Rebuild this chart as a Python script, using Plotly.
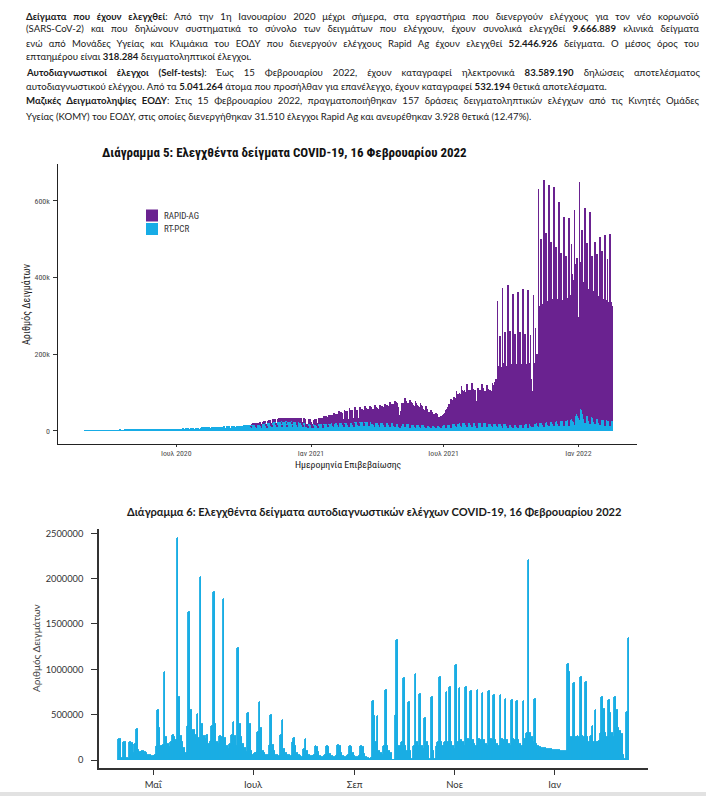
import json
import plotly.graph_objects as go
import pandas as pd

W, H = 706, 798

# ---------------- Chart 5: daily tested samples (thousands) ----------------
PCR_START = "2020-02-26"
pcr_k = [
    0.1, 0.2, 0.3, 0.2, 0.1, 0.3, 0.4,
    0.4, 0.5, 0.6, 0.4, 0.3, 0.7, 0.8,
    0.9, 1.0, 1.1, 0.8, 0.6, 1.2, 1.3,
    1.3, 1.4, 1.5, 1.1, 0.8, 1.4, 1.5,
    1.6, 1.7, 1.8, 1.3, 0.9, 1.7, 1.9,
    1.9, 2.0, 2.1, 1.5, 1.1, 2.0, 2.2,
    2.3, 2.4, 2.5, 1.7, 1.2, 2.3, 2.5,
    2.6, 2.5, 2.4, 1.6, 1.0, 1.9, 2.6,
    2.8, 2.9, 3.0, 2.1, 1.5, 2.9, 3.1,
    3.1, 3.2, 3.0, 2.2, 1.6, 3.2, 3.4,
    3.5, 3.6, 3.7, 2.6, 1.8, 3.5, 3.7,
    3.6, 3.8, 3.9, 2.7, 1.9, 3.6, 3.8,
    3.7, 3.9, 4.0, 2.8, 2.0, 3.7, 3.9,
    3.8, 4.0, 4.1, 2.9, 2.1, 3.9, 4.2,
    4.2, 4.3, 4.4, 3.1, 2.3, 4.1, 4.4,
    4.4, 4.6, 4.7, 3.3, 2.4, 4.4, 4.6,
    4.6, 4.8, 4.9, 3.5, 2.6, 4.7, 4.9,
    4.9, 5.1, 5.2, 3.7, 2.8, 5.0, 5.3,
    5.4, 5.6, 5.8, 4.1, 3.0, 5.7, 6.0,
    6.2, 6.4, 6.6, 4.7, 3.4, 6.3, 6.7,
    6.8, 7.1, 7.3, 5.2, 3.8, 7.0, 7.4,
    7.5, 7.8, 8.0, 5.7, 4.1, 7.7, 8.1,
    8.3, 8.6, 8.9, 6.3, 4.5, 8.5, 9.0,
    9.2, 9.6, 9.9, 7.0, 5.0, 9.4, 9.8,
    9.6, 9.9, 10.2, 7.2, 5.2, 8.8, 10.1,
    10.3, 10.7, 11.0, 7.8, 5.6, 10.4, 10.9,
    11.0, 11.3, 11.5, 8.1, 5.8, 10.8, 11.4,
    11.6, 11.9, 12.2, 8.6, 6.2, 11.5, 12.0,
    12.3, 12.6, 12.9, 9.0, 6.5, 12.2, 12.7,
    12.8, 13.2, 13.5, 9.5, 6.8, 12.9, 13.4,
    13.5, 13.9, 14.2, 10.0, 7.2, 13.6, 14.1,
    14.2, 14.6, 15.0, 10.5, 7.6, 14.4, 15.0,
    15.2, 15.7, 16.1, 11.3, 8.1, 15.6, 16.3,
    16.5, 17.0, 17.4, 12.2, 8.8, 16.9, 17.6,
    17.9, 18.4, 18.9, 13.2, 9.5, 18.2, 19.0,
    19.3, 19.9, 20.4, 14.3, 10.3, 19.8, 20.6,
    21.0, 21.6, 22.1, 15.5, 11.2, 21.4, 22.3,
    22.6, 23.2, 23.7, 16.6, 12.0, 23.0, 23.9,
    24.0, 24.5, 25.0, 17.5, 12.6, 24.2, 25.1,
    24.6, 25.1, 25.4, 17.8, 12.8, 24.6, 25.2,
    24.3, 24.7, 24.9, 17.4, 12.5, 23.9, 24.4,
    23.1, 23.4, 23.6, 16.5, 11.9, 22.7, 23.2,
    21.9, 22.3, 22.5, 15.8, 11.3, 21.6, 22.1,
    20.5, 16.2, 10.5, 12.8, 9.1, 18.7, 19.6,
    19.1, 15.0, 8.9, 12.1, 8.7, 17.8, 18.4,
    14.3, 17.9, 18.3, 12.8, 9.2, 17.6, 18.2,
    18.0, 18.4, 18.7, 13.1, 9.4, 18.0, 18.6,
    18.5, 18.9, 19.2, 13.4, 9.7, 18.6, 19.2,
    19.1, 19.5, 19.9, 13.9, 10.0, 19.2, 19.9,
    19.8, 20.3, 20.7, 14.5, 10.4, 20.0, 20.8,
    20.6, 21.1, 21.5, 15.1, 10.8, 20.8, 21.6,
    21.4, 21.9, 22.4, 15.7, 11.3, 21.7, 22.5,
    22.1, 22.6, 23.0, 16.1, 11.6, 22.3, 23.1,
    22.7, 23.2, 23.6, 16.5, 11.9, 22.9, 23.6,
    23.2, 23.6, 24.0, 16.8, 12.1, 23.2, 23.8,
    23.4, 23.8, 24.1, 16.9, 12.2, 23.0, 23.5,
    23.0, 18.5, 22.9, 16.0, 11.5, 22.1, 22.6,
    22.0, 22.4, 22.1, 15.5, 11.1, 21.3, 21.7,
    21.1, 21.4, 21.2, 14.8, 10.7, 20.4, 20.8,
    20.3, 20.6, 20.4, 14.3, 10.3, 19.6, 20.0,
    19.5, 19.8, 19.6, 13.7, 9.9, 18.9, 19.2,
    18.7, 18.3, 14.2, 9.1, 7.0, 12.8, 17.9,
    18.0, 18.2, 18.0, 12.6, 9.1, 17.3, 17.6,
    17.2, 17.4, 17.1, 12.0, 8.6, 16.5, 16.8,
    16.4, 16.6, 16.3, 11.4, 8.2, 15.7, 16.0,
    15.6, 15.8, 15.5, 10.9, 7.8, 14.9, 15.2,
    14.8, 15.0, 14.7, 10.3, 7.4, 14.1, 14.4,
    14.1, 14.2, 14.0, 9.8, 7.1, 13.5, 13.7,
    13.5, 13.6, 13.4, 9.4, 6.8, 12.4, 13.3,
    13.4, 13.7, 13.9, 9.7, 7.0, 13.8, 14.3,
    14.6, 15.0, 15.4, 10.8, 7.8, 15.3, 15.9,
    16.3, 16.8, 17.2, 12.0, 8.7, 17.0, 17.6,
    18.0, 18.5, 18.9, 13.2, 9.5, 18.6, 19.2,
    19.5, 19.9, 20.2, 14.1, 10.2, 19.7, 20.2,
    20.4, 20.7, 21.0, 14.7, 10.6, 20.3, 20.7,
    20.8, 21.1, 21.3, 14.9, 10.7, 20.4, 20.8,
    20.9, 21.1, 16.2, 12.5, 9.0, 19.8, 20.5,
    20.4, 20.6, 20.7, 14.5, 10.4, 19.9, 20.2,
    19.9, 20.1, 20.2, 14.1, 10.2, 19.3, 19.6,
    19.2, 19.4, 19.4, 13.6, 9.8, 18.6, 18.8,
    18.5, 18.6, 18.6, 13.0, 9.4, 17.8, 18.0,
    17.7, 17.8, 17.8, 12.5, 9.0, 17.1, 17.3,
    17.0, 17.1, 17.1, 12.0, 8.6, 16.4, 16.6,
    16.5, 16.6, 16.6, 11.6, 8.4, 16.0, 16.2,
    16.2, 16.4, 16.5, 11.6, 8.3, 16.0, 16.3,
    16.4, 16.6, 16.8, 11.8, 8.5, 16.4, 16.8,
    16.9, 17.2, 17.5, 12.3, 8.8, 17.2, 17.7,
    17.8, 13.2, 10.4, 12.6, 9.1, 18.3, 18.9,
    19.2, 19.6, 20.0, 14.0, 10.1, 19.8, 20.4,
    20.8, 21.3, 21.7, 15.2, 11.0, 21.5, 22.1,
    22.4, 22.9, 23.3, 16.3, 11.8, 23.0, 23.5,
    23.8, 24.2, 24.5, 17.2, 12.4, 24.1, 24.6,
    24.8, 25.2, 25.5, 17.9, 12.9, 25.0, 25.5,
    25.6, 26.0, 26.3, 18.4, 13.3, 25.9, 26.4,
    26.8, 27.5, 28.2, 19.7, 14.2, 28.9, 30.1,
    32.4, 35.8, 27.1, 22.5, 16.3, 38.4, 44.6,
    49.8, 55.2, 38.1, 35.0, 28.4, 60.5, 57.3,
    54.0, 46.8, 43.2, 30.1, 21.7, 44.9, 42.6,
    40.3, 39.1, 38.0, 26.6, 19.2, 37.2, 36.5,
    35.4, 34.6, 33.8, 23.7, 17.1, 33.0, 32.4,
    31.5, 30.8, 30.1, 21.1, 15.2, 29.6, 29.1,
    28.7, 28.3, 28.0, 19.6, 14.1, 27.9, 27.6,
    27.4, 27.2, 26.9, 18.8, 13.6, 27.0, 26.8,
]

RAPID_START = "2020-10-07"
rapid_k = [
    0, 0, 0, 1.2, 0.6, 2.0, 2.4,
    2.8, 3.1, 3.3, 2.0, 1.1, 3.6, 3.9,
    4.2, 4.5, 4.7, 2.9, 1.6, 5.1, 5.4,
    5.6, 5.8, 6.0, 3.7, 2.0, 6.3, 6.5,
    6.8, 7.0, 7.2, 4.5, 2.4, 7.6, 7.8,
    7.9, 8.1, 8.3, 5.2, 2.8, 8.6, 8.8,
    8.6, 8.8, 9.0, 5.6, 3.0, 9.3, 9.4,
    9.0, 9.2, 9.3, 5.8, 3.1, 9.5, 9.6,
    9.3, 9.4, 9.5, 5.9, 3.2, 9.8, 9.9,
    9.7, 9.8, 9.9, 6.2, 3.3, 10.2, 10.4,
    10.3, 10.5, 10.7, 6.6, 3.5, 11.0, 11.2,
    11.0, 8.2, 4.1, 5.3, 2.9, 10.4, 11.1,
    11.6, 8.4, 3.8, 6.1, 3.2, 11.9, 12.4,
    9.0, 14.0, 13.3, 7.7, 4.2, 17.5, 15.4,
    16.5, 16.5, 15.7, 9.1, 5.0, 20.6, 18.2,
    19.0, 19.0, 18.1, 10.5, 5.7, 23.8, 20.9,
    22.0, 22.0, 20.9, 12.1, 6.6, 27.5, 24.2,
    25.0, 25.0, 23.8, 13.8, 7.5, 31.3, 27.5,
    27.5, 27.5, 26.1, 15.1, 8.3, 34.4, 30.3,
    30.0, 30.0, 28.5, 16.5, 9.0, 37.5, 33.0,
    32.0, 32.0, 30.4, 17.6, 9.6, 40.0, 35.2,
    31.0, 31.0, 29.5, 17.1, 9.3, 38.8, 34.1,
    33.0, 33.0, 31.4, 18.2, 9.9, 41.3, 36.3,
    34.5, 34.5, 32.8, 19.0, 10.4, 43.1, 38.0,
    36.0, 26.0, 34.2, 19.8, 10.8, 45.0, 39.6,
    38.0, 38.0, 36.1, 20.9, 11.4, 47.5, 41.8,
    44.0, 44.6, 42.2, 19.8, 59.4, 48.4, 45.3,
    47.5, 48.0, 45.6, 21.4, 64.1, 52.3, 48.9,
    50.5, 51.0, 48.5, 22.7, 68.2, 55.6, 52.0,
    53.0, 45.0, 28.0, 15.0, 35.0, 40.0, 54.6,
    54.5, 55.0, 52.3, 24.5, 76.0, 60.0, 56.1,
    54.0, 54.5, 51.8, 24.3, 73.0, 59.4, 55.6,
    51.5, 52.0, 49.4, 23.2, 69.5, 56.7, 53.0,
    48.0, 48.5, 46.1, 21.6, 64.8, 52.8, 49.4,
    42.0, 42.4, 40.3, 18.9, 56.7, 46.2, 43.3,
    36.0, 36.4, 34.6, 16.2, 48.6, 39.6, 37.1,
    29.5, 29.8, 28.3, 13.3, 39.8, 32.5, 30.4,
    23.0, 23.2, 22.1, 10.4, 31.1, 25.3, 23.7,
    26.0, 29.5, 31.0, 15.0, 48.0, 42.0, 45.5,
    49.0, 53.0, 54.0, 22.0, 76.0, 62.0, 64.0,
    66.0, 69.0, 68.0, 27.0, 96.0, 78.0, 77.0,
    78.0, 80.0, 77.0, 30.0, 108.0, 88.0, 84.0,
    83.0, 85.0, 81.0, 32.0, 112.0, 92.0, 87.0,
    85.0, 87.0, 83.0, 33.0, 114.0, 94.0, 88.0,
    86.0, 87.0, 82.0, 31.0, 70.0, 92.0, 88.0,
    85.0, 86.0, 81.0, 33.0, 112.0, 93.0, 87.0,
    83.0, 84.0, 79.0, 32.0, 109.0, 90.0, 85.0,
    85.0, 88.0, 86.0, 34.0, 115.0, 98.0, 100.0,
    104.5, 110.2, 116.8, 62.0, 330.0, 148.6, 152.3,
    230.0, 155.4, 150.2, 68.0, 365.0, 160.1, 158.7,
    240.0, 157.5, 152.6, 70.5, 372.0, 162.4, 160.3,
    245.0, 158.6, 153.4, 71.2, 348.0, 163.0, 161.2,
    238.0, 157.9, 152.1, 70.8, 355.0, 161.8, 160.5,
    242.0, 158.2, 153.0, 69.5, 362.0, 162.9, 161.0,
    236.0, 156.8, 151.4, 68.9, 358.0, 160.6, 159.2,
    233.0, 122.0, 95.0, 66.0, 345.0, 158.8, 157.5,
    250.0, 170.2, 180.5, 82.0, 620.0, 300.2, 305.4,
    480.0, 318.6, 310.2, 95.0, 645.0, 325.8, 320.1,
    495.0, 324.5, 315.0, 98.0, 630.0, 330.4, 326.2,
    470.0, 320.8, 312.4, 92.0, 625.0, 328.1, 322.6,
    455.0, 318.2, 308.6, 90.0, 585.0, 322.5, 318.4,
    440.0, 315.5, 306.1, 88.0, 545.0, 320.6, 316.3,
    430.0, 318.9, 310.4, 85.0, 542.0, 325.8, 321.7,
    455.0, 372.5, 368.0, 110.0, 560.0, 385.4, 392.1,
    400.2, 395.6, 260.0, 140.0, 620.0, 380.0, 372.4,
    470.0, 355.0, 345.6, 105.0, 560.0, 352.0, 348.3,
    450.0, 340.2, 332.8, 100.0, 552.0, 338.5, 335.0,
    420.0, 330.6, 324.0, 96.0, 475.0, 328.2, 325.6,
    430.0, 322.4, 316.5, 94.0, 490.0, 320.3, 318.1,
    440.0, 315.8, 310.2, 92.0, 497.0, 314.6, 312.2,
    420.0, 310.5, 305.8, 90.0, 500.0, 308.4, 300.0,
]

# ---------------- Chart 6: daily self-tests (thousands) ----------------
SELF_START = "2021-04-10"
self_k = [
    235, 230, 25, 200, 195, 20, 15, 200, 190, 80,
    180, 340, 110, 90, 100, 95, 90, 75, 60, 55,
    45, 40, 60, 150, 555, 350, 150, 160, 970, 250,
    180, 140, 200, 280, 250, 220, 2450, 700, 260, 200,
    130, 80, 370, 1630, 550, 330, 330, 280, 510, 240,
    2020, 400, 270, 230, 280, 180, 210, 380, 1850, 400,
    200, 180, 270, 250, 1780, 240, 150, 120, 180, 280,
    420, 260, 150, 1230, 400, 250, 180, 130, 90, 520,
    400, 100, 60, 80, 90, 310, 640, 350, 100, 80,
    50, 60, 170, 500, 170, 100, 60, 50, 40, 280,
    440, 120, 80, 60, 50, 40, 200, 240, 150, 80,
    50, 40, 30, 120, 230, 100, 60, 40, 40, 60,
    150, 140, 90, 40, 35, 30, 50, 150, 140, 70,
    40, 35, 30, 50, 160, 150, 80, 40, 35, 30,
    50, 150, 145, 80, 40, 35, 30, 50, 150, 140,
    70, 30, 20, 15, 20, 650, 480, 200, 480, 100,
    80, 60, 150, 770, 150, 100, 80, 5, 5, 500,
    1320, 150, 150, 200, 900, 150, 100, 640, 100, 10,
    150, 950, 200, 150, 730, 150, 120, 460, 200, 150,
    10, 690, 100, 10, 150, 200, 910, 200, 150, 200,
    750, 200, 800, 200, 150, 120, 1050, 200, 790, 220,
    200, 150, 800, 230, 220, 760, 220, 180, 150, 770,
    230, 220, 740, 220, 180, 150, 760, 230, 220, 720,
    220, 180, 150, 720, 230, 220, 670, 220, 180, 150,
    660, 230, 220, 650, 220, 180, 150, 650, 230, 300,
    2210, 300, 250, 200, 670, 180, 150, 140, 135, 130,
    128, 125, 122, 120, 118, 115, 112, 110, 108, 105,
    103, 102, 100, 100, 1060, 970, 250, 250, 850, 250,
    270, 250, 920, 270, 250, 860, 250, 200, 260, 380,
    200, 550, 200, 210, 300, 700, 560, 300, 250, 660,
    520, 300, 250, 700, 550, 350, 320, 290, 60, 15,
    530, 1340,
]

# ---------------- tick values / labels ----------------
c5_xticks = ["2020-07-01", "2021-01-01", "2021-07-01", "2022-01-01"]
c5_xlabels = ["Ιουλ 2020", "Ιαν 2021", "Ιουλ 2021", "Ιαν 2022"]
c5_yticks = [0, 200000, 400000, 600000]
c5_ylabels = ["0", "200k", "400k", "600k"]
c6_xticks = ["2021-05-01", "2021-07-01", "2021-09-01", "2021-11-01", "2022-01-01"]
c6_xlabels = ["Μαΐ", "Ιουλ", "Σεπ", "Νοε", "Ιαν"]
c6_yticks = [0, 500000, 1000000, 1500000, 2000000, 2500000]
c6_ylabels = ["0", "500000", "1000000", "1500000", "2000000", "2500000"]

# ---------------- header text: (y px, justified?, html) ----------------
header_lines = [
    (16, True, "<b>Δείγματα που έχουν ελεγχθεί</b>: Από την 1η Ιανουαρίου 2020 μέχρι σήμερα, στα εργαστήρια που διενεργούν ελέγχους για τον νέο κορωνοϊό"),
    (29, True, "(SARS-CoV-2) και που δηλώνουν συστηματικά το σύνολο των δειγμάτων που ελέγχουν, έχουν συνολικά ελεγχθεί <b>9.666.889</b> κλινικά δείγματα"),
    (43, True, "ενώ από Μονάδες Υγείας και Κλιμάκια του ΕΟΔΥ που διενεργούν ελέγχους Rapid Ag έχουν ελεγχθεί <b>52.446.926</b> δείγματα. Ο μέσος όρος του"),
    (57, False, "επταημέρου είναι <b>318.284</b> δειγματοληπτικοί έλεγχοι."),
    (72, True, "<b>Αυτοδιαγνωστικοί έλεγχοι (Self-tests)</b>: Έως 15 Φεβρουαρίου 2022, έχουν καταγραφεί ηλεκτρονικά <b>83.589.190</b> δηλώσεις αποτελέσματος"),
    (86, False, "αυτοδιαγνωστικού ελέγχου. Από τα <b>5.041.264</b> άτομα που προσήλθαν για επανέλεγχο, έχουν καταγραφεί <b>532.194</b> θετικά αποτελέσματα."),
    (101, True, "<b>Μαζικές Δειγματοληψίες ΕΟΔΥ</b>: Στις 15 Φεβρουαρίου 2022, πραγματοποιήθηκαν 157 δράσεις δειγματοληπτικών ελέγχων από τις Κινητές Ομάδες"),
    (116, False, "Υγείας (ΚΟΜΥ) του ΕΟΔΥ, στις οποίες διενεργήθηκαν 31.510 έλεγχοι Rapid Ag και ανευρέθηκαν 3.928 θετικά (12.47%)."),
]

PURPLE = "#6a2290"
BLUE5 = "#17ace6"
BLUE6 = "#1aade3"
NARROW = "Liberation Sans Narrow, Arial Narrow, Roboto Condensed, Liberation Sans, Arial, sans-serif"
BODY = "Lato, Open Sans, sans-serif"
DAY_MS = 86400000
TEXT_L, TEXT_R = 24, 697

pcr_dates = pd.date_range(PCR_START, periods=len(pcr_k), freq="D")
rapid_dates = pd.date_range(RAPID_START, periods=len(rapid_k), freq="D")
self_dates = pd.date_range(SELF_START, periods=len(self_k), freq="D")


def px(x):
    return x / W


def py(y):
    return 1 - y / H


fig = go.Figure()
fig.add_trace(go.Bar(x=pcr_dates, y=[v * 1000 for v in pcr_k], name="RT-PCR",
                     marker=dict(color=BLUE5, line=dict(width=0)), width=DAY_MS,
                     xaxis="x", yaxis="y", showlegend=False))
fig.add_trace(go.Bar(x=rapid_dates, y=[v * 1000 for v in rapid_k], name="RAPID-AG",
                     marker=dict(color=PURPLE, line=dict(width=0)), width=DAY_MS,
                     xaxis="x", yaxis="y", showlegend=False))
fig.add_trace(go.Bar(x=self_dates, y=[v * 1000 for v in self_k], name="Self-tests",
                     marker=dict(color=BLUE6, line=dict(width=0.9, color=BLUE6)), width=DAY_MS,
                     xaxis="x2", yaxis="y2", showlegend=False))

annotations = []
HFONT = dict(family=BODY, size=9.6, color="#1a1a1a")
targets = []
for yy, just, html in header_lines:
    annotations.append(dict(text=html, x=px(TEXT_L), y=py(yy), xref="paper", yref="paper",
                            xanchor="left", yanchor="middle", align="left",
                            showarrow=False, font=HFONT))
    if just:
        plain = html.replace("<b>", "").replace("</b>", "")
        targets.append([plain[:14], TEXT_R - TEXT_L])

annotations += [
    dict(text="<b>Διάγραμμα 5: Ελεγχθέντα δείγματα COVID-19, 16 Φεβρουαρίου 2022</b>",
         x=px(284), y=py(153), xref="paper", yref="paper", xanchor="center", yanchor="middle",
         showarrow=False, font=dict(family=NARROW, size=13, color="#111111")),
    dict(text="Ημερομηνία Επιβεβαίωσης", x=px(348), y=py(464), xref="paper", yref="paper",
         xanchor="center", yanchor="middle", showarrow=False,
         font=dict(family=NARROW, size=9.8, color="#222222")),
    dict(text="Αριθμός Δειγμάτων", x=px(27), y=py(304), xref="paper", yref="paper",
         xanchor="center", yanchor="middle", textangle=-90, showarrow=False,
         font=dict(family=NARROW, size=10.2, color="#222222")),
    dict(text="RAPID-AG", x=px(162), y=py(216), xref="paper", yref="paper",
         xanchor="left", yanchor="middle", showarrow=False,
         font=dict(family=NARROW, size=9, color="#333333")),
    dict(text="RT-PCR", x=px(162), y=py(229), xref="paper", yref="paper",
         xanchor="left", yanchor="middle", showarrow=False,
         font=dict(family=NARROW, size=9, color="#333333")),
    dict(text="<b>Διάγραμμα 6: Ελεγχθέντα δείγματα αυτοδιαγνωστικών ελέγχων COVID-19, 16 Φεβρουαρίου 2022</b>",
         x=px(374), y=py(511), xref="paper", yref="paper", xanchor="center", yanchor="middle",
         showarrow=False, font=dict(family=BODY, size=11.1, color="#1a1a1a")),
    dict(text="Αριθμός Δειγμάτων", x=px(36), y=py(648), xref="paper", yref="paper",
         xanchor="center", yanchor="middle", textangle=-90, showarrow=False,
         font=dict(family=BODY, size=10, color="#444444")),
]

shapes = [
    dict(type="rect", xref="paper", yref="paper", x0=px(146), x1=px(158), y0=py(221.5), y1=py(209.5),
         fillcolor=PURPLE, line=dict(width=0)),
    dict(type="rect", xref="paper", yref="paper", x0=px(146), x1=px(158), y0=py(235), y1=py(223),
         fillcolor=BLUE5, line=dict(width=0)),
    dict(type="rect", xref="paper", yref="paper", x0=0, x1=1, y0=py(796), y1=py(792),
         fillcolor="#e2e2e2", line=dict(width=0)),
]

fig.update_layout(
    width=W, height=H, autosize=False,
    margin=dict(l=0, r=0, t=0, b=0, pad=0),
    paper_bgcolor="white", plot_bgcolor="white",
    barmode="stack", bargap=0, showlegend=False,
    annotations=annotations, shapes=shapes,
    xaxis=dict(domain=[px(57.6), px(637)], anchor="y", type="date",
               range=["2020-01-21", "2022-03-22"],
               tickmode="array", tickvals=c5_xticks, ticktext=c5_xlabels,
               ticks="outside", ticklen=2, tickcolor="#333333", tickwidth=1,
               showline=True, linecolor="#222222", linewidth=1.2,
               showgrid=False, zeroline=False,
               tickfont=dict(family=NARROW, size=7.8, color="#4d4d4d")),
    yaxis=dict(domain=[py(444), py(164)], anchor="x",
               range=[-34000, 696500],
               tickmode="array", tickvals=c5_yticks, ticktext=c5_ylabels,
               ticks="outside", ticklen=4, tickcolor="#333333", tickwidth=1,
               showline=True, linecolor="#222222", linewidth=1.2,
               showgrid=False, zeroline=False, ticklabelstandoff=1,
               tickfont=dict(family=NARROW, size=8, color="#4d4d4d")),
    xaxis2=dict(domain=[px(99), px(647.5)], anchor="y2", type="date",
                range=["2021-03-29 00:00", "2022-02-26 16:00"],
                tickmode="array", tickvals=c6_xticks, ticktext=c6_xlabels,
                ticks="outside", ticklen=5, tickcolor="#333333", tickwidth=1,
                showline=True, linecolor="#333333", linewidth=1.5,
                showgrid=False, zeroline=False, ticklabelstandoff=2,
                tickfont=dict(family=BODY, size=9.5, color="#333333")),
    yaxis2=dict(domain=[py(768.3), py(529)], anchor="x2",
                range=[-91500, 2547000],
                tickmode="array", tickvals=c6_yticks, ticktext=c6_ylabels,
                ticks="outside", ticklen=6, tickcolor="#333333", tickwidth=1,
                showline=True, linecolor="#333333", linewidth=1.5,
                showgrid=False, zeroline=False, ticklabelstandoff=6,
                tickfont=dict(family=BODY, size=9.3, color="#333333")),
)

# page reset + justify the full header lines (extra word spacing only, never squeeze)
post_js = """
document.body.style.margin = '0';
document.body.style.overflow = 'hidden';
var targets = %s;
document.querySelectorAll('text.annotation-text').forEach(function (t) {
  var s = t.textContent;
  for (var i = 0; i < targets.length; i++) {
    if (s.indexOf(targets[i][0]) === 0) {
      var w = t.getComputedTextLength();
      var n = (s.match(/ /g) || []).length;
      if (n > 0 && targets[i][1] > w) { t.style.wordSpacing = ((targets[i][1] - w) / n) + 'px'; }
      break;
    }
  }
});
""" % json.dumps(targets)

fig.write_html("out.html", config={"displayModeBar": False}, post_script=post_js)
